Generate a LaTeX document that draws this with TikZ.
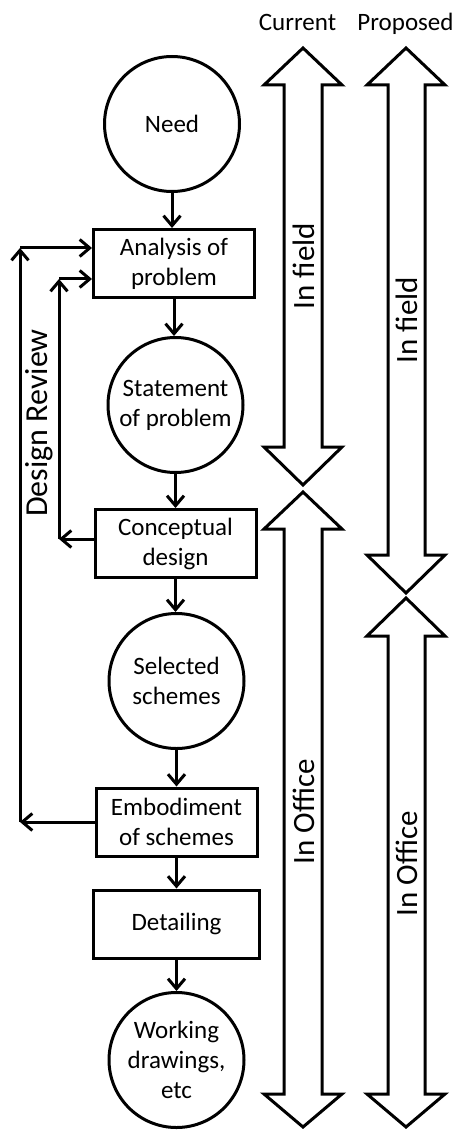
\documentclass[tikz,border=0pt]{standalone}
\usepackage{fontspec}
\setmainfont{Carlito}
\usetikzlibrary{arrows.meta}
\begin{document}
\begin{tikzpicture}[x=1pt,y=-1pt,
  lw/.style={line width=3pt},
  circ/.style={lw,draw,circle,minimum size=135pt,inner sep=0pt,align=center,font=\fontsize{25}{30}\selectfont},
  boxn/.style={lw,draw,rectangle,minimum width=161pt,minimum height=68pt,inner sep=0pt,align=center,font=\fontsize{25}{30}\selectfont},
  arr/.style={lw,-{Straight Barb[length=10pt,width=17pt,line width=3pt]}},
  blk/.style={lw,draw,line join=miter,fill=white},
  rot/.style={rotate=90,font=\fontsize{31}{37}\selectfont,inner sep=0pt},
  lab/.style={font=\fontsize{25}{30}\selectfont,inner sep=0pt,anchor=base}
]
\useasboundingbox (0,0) rectangle (454,1131);

% block arrows
\draw[blk] (303,48) -- (342,85) -- (322,85) -- (322,447) -- (342,447) -- (303,485) -- (264,447) -- (284,447) -- (284,85) -- (264,85) -- cycle;
\draw[blk] (303,492) -- (342,529) -- (322,529) -- (322,1094) -- (342,1094) -- (303,1127) -- (264,1094) -- (284,1094) -- (284,529) -- (264,529) -- cycle;
\draw[blk] (406,48) -- (445,85) -- (425,85) -- (425,555) -- (445,555) -- (406,593) -- (367,555) -- (388,555) -- (388,85) -- (367,85) -- cycle;
\draw[blk] (406,598) -- (445,636) -- (425,636) -- (425,1094) -- (445,1094) -- (406,1127) -- (367,1094) -- (388,1094) -- (388,636) -- (367,636) -- cycle;

\node[lab] (cur) at (297.5,31) {Current};
\node[lab] (prop) at (405.5,31) {Proposed};
\node[rot] (f1) at (304,266) {In field};
\node[rot] (f2) at (407,320) {In field};
\node[rot] (o1t) at (304,812) {In Office};
\node[rot] (o2t) at (407,864) {In Office};

% main flow
\node[circ] (need) at (172,124) {Need};
\node[boxn] (ana) at (174,263.5) {Analysis of\\problem};
\node[circ] (stat) at (175.5,405) {Statement\\of problem};
\node[boxn] (conc) at (175.5,543.5) {Conceptual\\design};
\node[circ] (sel) at (176.5,681) {Selected\\schemes};
\node[boxn] (emb) at (176.5,822) {Embodiment\\of schemes};
\node[boxn,minimum width=166pt] (det) at (176.5,924) {Detailing};
\node[circ] (work) at (176.5,1060) {Working\\drawings,\\etc};

\draw[arr] (need.south) -- (need.south |- ana.north);
\draw[arr] (ana.south) -- (ana.south |- stat.north);
\draw[arr] (stat.south) -- (stat.south |- conc.north);
\draw[arr] (conc.south) -- (conc.south |- sel.north);
\draw[arr] (sel.south) -- (sel.south |- emb.north);
\draw[arr] (emb.south) -- (emb.south |- det.north);
\draw[arr] (det.south) -- (det.south |- work.north);

% design review loops
\coordinate (a1) at (20,822);
\coordinate (a2) at (20,248);
\coordinate (b1) at (59,539);
\coordinate (b2) at (59,279);
\draw[arr] (emb.west) -- (a1);
\draw[arr] (a1) -- (a2);
\draw[arr] (a2) -- (a2 -| ana.west);
\draw[arr] (conc.west |- b1) -- (b1);
\draw[arr] (b1) -- (b2);
\draw[arr] (b2) -- (b2 -| ana.west);
\node[rot,font=\fontsize{32}{38}\selectfont] (dr) at (39,423) {Design Review};
\end{tikzpicture}
\end{document}
